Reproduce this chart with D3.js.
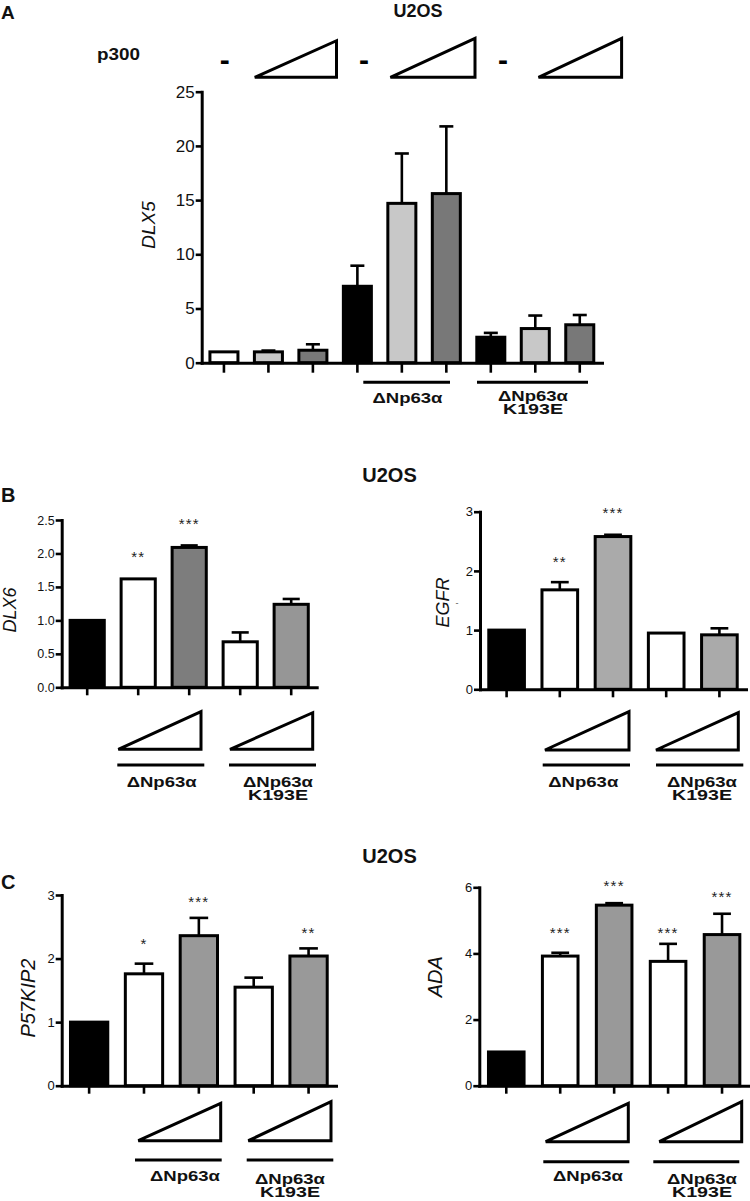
<!DOCTYPE html>
<html>
<head>
<meta charset="utf-8">
<script src="https://cdnjs.cloudflare.com/ajax/libs/d3/7.8.5/d3.min.js"></script>
<style>
  body { margin: 0; background: #fff; }
  svg { display: block; font-family: "Liberation Sans", Arial, Helvetica, sans-serif; }
</style>
</head>
<body>
<div class="canvas"></div>
<script>
// panel A - DLX5, p300 titration
var dlx5Values = [1.0, 1.0, 1.15, 7.05, 14.7, 15.6, 2.35, 3.15, 3.5];
var dlx5Errors = [0, 0.12, 0.55, 1.9, 4.6, 6.2, 0.4, 1.2, 0.9];
var dlx5Colors = ['#fff', '#c8c8c8', '#787878', '#000', '#c8c8c8', '#787878', '#000', '#c8c8c8', '#787878'];
var dlx5Ticks = [0, 5, 10, 15, 20, 25];

// panel B
var dlx6Values = [1.0, 1.62, 2.09, 0.68, 1.24];
var dlx6Errors = [0, 0, 0.03, 0.14, 0.08];
var dlx6Colors = ['#000', '#fff', '#7d7d7d', '#fff', '#969696'];
var dlx6Stars = ['', '**', '***', '', ''];
var dlx6StarAt = [0, 2.0, 2.5, 0, 0];
var dlx6Ticks = [0, 0.5, 1.0, 1.5, 2.0, 2.5];

var egfrValues = [1.0, 1.68, 2.58, 0.95, 0.92];
var egfrErrors = [0, 0.13, 0.03, 0, 0.11];
var egfrColors = ['#000', '#fff', '#aaa', '#fff', '#aaa'];
var egfrStars = ['', '**', '***', '', ''];
var egfrStarAt = [0, 2.21, 3.04, 0, 0];
var egfrTicks = [0, 1, 2, 3];

// panel C
var p57Values = [1.0, 1.76, 2.36, 1.55, 2.04];
var p57Errors = [0, 0.16, 0.28, 0.15, 0.12];
var p57Colors = ['#000', '#fff', '#999', '#fff', '#999'];
var p57Stars = ['', '*', '***', '', '**'];
var p57StarAt = [0, 2.29, 2.95, 0, 2.46];
var p57Ticks = [0, 1, 2, 3];

var adaValues = [1.02, 3.92, 5.46, 3.76, 4.57];
var adaErrors = [0, 0.1, 0.06, 0.53, 0.63];
var adaColors = ['#000', '#fff', '#999', '#fff', '#999'];
var adaStars = ['', '***', '***', '***', '***'];
var adaStarAt = [0, 4.73, 6.15, 4.73, 5.84];
var adaTicks = [0, 2, 4, 6];

var groupWt = 'ΔNp63α';
var groupMut = ['ΔNp63α', 'K193E'];

var canvasFrameWidth = 750;
var canvasFrameHeight = 1201;

var svg = d3.select('.canvas')
  .append('svg')
    .attr('width', canvasFrameWidth)
    .attr('height', canvasFrameHeight);

function drawPanel(p) {
  var g = svg.append('g');
  var x = d3.scaleBand()
    .domain(d3.range(p.values.length))
    .range([p.left, p.right])
    .paddingInner(p.pad)
    .paddingOuter(p.pad / 2);
  var y = d3.scaleLinear().domain([0, p.max]).range([p.bottom, p.top]);
  var bw = x.bandwidth();

  var rows = p.values.map(function(v, i) {
    return { i: i, v: v, e: p.errors[i], c: p.colors[i] };
  });
  var withErr = rows.filter(function(d) { return d.e > 0; });

  // error bars first, bars cover the lower half
  g.selectAll('.err').data(withErr).enter().append('line')
    .attr('x1', function(d) { return x(d.i) + bw / 2; })
    .attr('x2', function(d) { return x(d.i) + bw / 2; })
    .attr('y1', function(d) { return y(d.v); })
    .attr('y2', function(d) { return y(d.v + d.e); })
    .attr('stroke', '#000').attr('stroke-width', 2.6);
  g.selectAll('.cap').data(withErr).enter().append('line')
    .attr('x1', function(d) { return x(d.i) + bw * 0.25; })
    .attr('x2', function(d) { return x(d.i) + bw * 0.75; })
    .attr('y1', function(d) { return y(d.v + d.e); })
    .attr('y2', function(d) { return y(d.v + d.e); })
    .attr('stroke', '#000').attr('stroke-width', 2.6);

  g.selectAll('.bar').data(rows).enter().append('rect')
    .attr('x', function(d) { return x(d.i); })
    .attr('y', function(d) { return y(d.v); })
    .attr('width', bw)
    .attr('height', function(d) { return y(0) - y(d.v); })
    .attr('fill', function(d) { return d.c; })
    .attr('stroke', '#000')
    .attr('stroke-width', 3);

  if (p.stars) {
    g.selectAll('.star').data(rows.filter(function(d) { return p.stars[d.i]; })).enter().append('text')
      .attr('x', function(d) { return x(d.i) + bw / 2; })
      .attr('y', function(d) { return y(p.starAt[d.i]) + 9; })
      .attr('text-anchor', 'middle')
      .attr('font-size', 15)
      .attr('letter-spacing', 1.2)
      .attr('fill', '#222')
      .text(function(d) { return p.stars[d.i]; });
  }

  var xa = g.append('g')
    .attr('transform', 'translate(0,' + p.bottom + ')')
    .call(d3.axisBottom(x).tickSizeInner(p.xTick).tickSizeOuter(0).tickFormat(''));
  var ya = g.append('g')
    .attr('transform', 'translate(' + p.left + ',0)')
    .call(d3.axisLeft(y).tickValues(p.ticks).tickSizeInner(6).tickSizeOuter(0).tickPadding(1)
      .tickFormat(p.fmt || d3.format('d')));
  [xa, ya].forEach(function(a) {
    a.attr('font-family', null);
    a.select('.domain').attr('stroke-width', 3).attr('stroke-linecap', 'square');
    a.selectAll('.tick line').attr('stroke-width', 2.6);
  });
  ya.selectAll('.tick text').attr('font-size', p.tickFont).attr('fill', '#111');

  g.append('text')
    .attr('transform', 'translate(' + (p.labelX + p.labelSize * 0.36) + ',' + p.labelY + ') rotate(-90)')
    .attr('text-anchor', 'middle')
    .attr('font-style', 'italic')
    .attr('font-size', p.labelSize)
    .attr('fill', '#111')
    .text(p.label);
  return g;
}

function bold(x, yy, str, size, anchor, len) {
  var t = svg.append('text')
    .attr('x', x).attr('y', yy)
    .attr('font-weight', 'bold')
    .attr('font-size', size)
    .attr('text-anchor', anchor || 'start')
    .attr('fill', '#111')
    .text(str);
  if (len) t.attr('textLength', len).attr('lengthAdjust', 'spacingAndGlyphs');
  return t;
}

function wedge(x0, x1, yTop, yBot) {
  svg.append('path')
    .attr('d', 'M' + x0 + ',' + yBot + 'L' + x1 + ',' + yTop + 'L' + x1 + ',' + yBot + 'Z')
    .attr('fill', 'none').attr('stroke', '#000').attr('stroke-width', 3);
}

function rule(x0, x1, yy) {
  svg.append('line').attr('x1', x0).attr('x2', x1).attr('y1', yy).attr('y2', yy)
    .attr('stroke', '#000').attr('stroke-width', 3);
}

function groupLabels(c1, c2, yWt, yMut) {
  bold(c1, yWt, groupWt, 14.5, 'middle', 70);
  bold(c2, yMut, groupMut[0], 14.5, 'middle', 70);
  bold(c2, yMut + 13, groupMut[1], 14.5, 'middle', 60);
}

// ---------- A ----------
bold(1, 19, 'A', 19);
bold(418, 17, 'U2OS', 18, 'middle');
bold(97, 60, 'p300', 16, 'start', 43);
[224.8, 364, 503].forEach(function(cx) {
  svg.append('text').attr('x', cx).attr('y', 70).attr('text-anchor', 'middle')
    .attr('font-size', 30).attr('font-weight', 'bold').attr('fill', '#000').text('-');
});
wedge(254.8, 336.5, 40.7, 77.3);
wedge(390.4, 475, 38.3, 77.3);
wedge(538.5, 621.6, 38.3, 77.3);

drawPanel({ values: dlx5Values, errors: dlx5Errors, colors: dlx5Colors, ticks: dlx5Ticks,
  left: 201.7, right: 602, top: 91.7, bottom: 362.7, max: 25, pad: 0.37, xTick: 10,
  tickFont: 17, label: 'DLX5', labelX: 148, labelY: 225, labelSize: 19 });
rule(363.3, 450, 382.3);
rule(477, 588, 382.3);
groupLabels(407.5, 533, 402.5, 400.5);

// ---------- B ----------
bold(1, 502, 'B', 20);
bold(389.5, 482, 'U2OS', 20, 'middle');

drawPanel({ values: dlx6Values, errors: dlx6Errors, colors: dlx6Colors, ticks: dlx6Ticks,
  stars: dlx6Stars, starAt: dlx6StarAt, fmt: d3.format('.1f'),
  left: 61.7, right: 316.7, top: 520, bottom: 687.3, max: 2.5, pad: 0.33, xTick: 8,
  tickFont: 12.5, label: 'DLX6', labelX: 10, labelY: 610, labelSize: 18 });
wedge(118.3, 201, 711.7, 749.3);
wedge(230, 312.7, 712.7, 749.3);
rule(117.3, 204.3, 765);
rule(229, 316, 765);
groupLabels(161.7, 278, 787, 787);

drawPanel({ values: egfrValues, errors: egfrErrors, colors: egfrColors, ticks: egfrTicks,
  stars: egfrStars, starAt: egfrStarAt,
  left: 480, right: 746, top: 511.7, bottom: 689.3, max: 3, pad: 0.33, xTick: 8,
  tickFont: 13, label: 'EGFR', labelX: 443, labelY: 602.5, labelSize: 18 });
svg.append('text').attr('x', 457).attr('y', 606).attr('text-anchor', 'middle')
  .attr('font-size', 9).attr('fill', '#555').text('-');
wedge(545, 629, 711.7, 750);
wedge(656, 738.3, 712.7, 750);
rule(542.7, 630, 765);
rule(656, 743.3, 765);
groupLabels(583.3, 702, 787, 787);

// ---------- C ----------
bold(1, 889, 'C', 20);
bold(389.5, 863, 'U2OS', 20, 'middle');

drawPanel({ values: p57Values, errors: p57Errors, colors: p57Colors, ticks: p57Ticks,
  stars: p57Stars, starAt: p57StarAt,
  left: 61.7, right: 336, top: 895, bottom: 1085.7, max: 3, pad: 0.32, xTick: 8,
  tickFont: 13, label: 'P57KIP2', labelX: 27.5, labelY: 998, labelSize: 20 });
wedge(138.3, 220.7, 1103.3, 1140.7);
wedge(248.3, 331, 1101.7, 1140.7);
rule(135, 221.7, 1160);
rule(246.7, 333.3, 1160);
groupLabels(185, 290, 1181, 1184);

drawPanel({ values: adaValues, errors: adaErrors, colors: adaColors, ticks: adaTicks,
  stars: adaStars, starAt: adaStarAt,
  left: 479.3, right: 749, top: 887.3, bottom: 1085.7, max: 6, pad: 0.34, xTick: 8,
  tickFont: 13, label: 'ADA', labelX: 435, labelY: 976.7, labelSize: 20 });
wedge(545.7, 628.3, 1103.3, 1141.7);
wedge(659.3, 741.7, 1101.7, 1141.7);
rule(543.3, 629.3, 1161.7);
rule(653.3, 739.3, 1161.7);
groupLabels(588, 702, 1181, 1184);
</script>
</body>
</html>
